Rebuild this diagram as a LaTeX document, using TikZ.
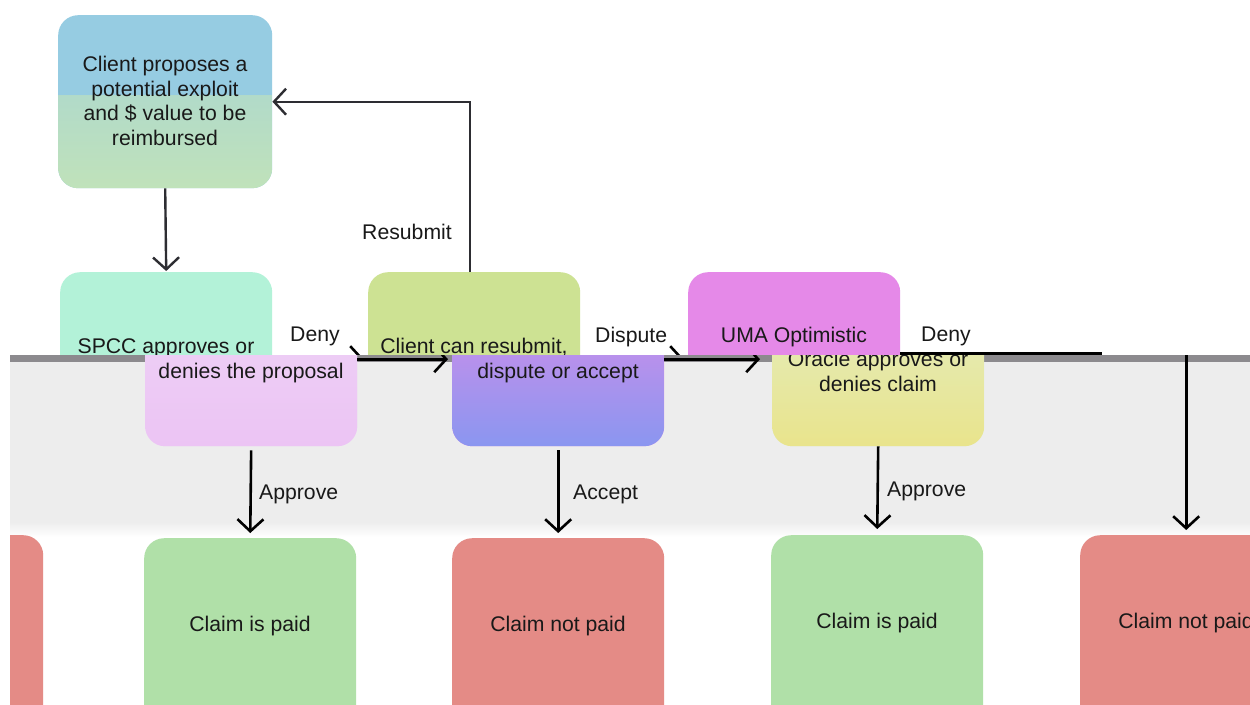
\documentclass[tikz,border=0pt]{standalone}
\usepackage{fontspec}
\setmainfont{Liberation Sans}
\usetikzlibrary{arrows.meta,calc}
\definecolor{txtc}{RGB}{25,25,25}
\definecolor{blueA}{RGB}{150,204,226}
\definecolor{nAa}{RGB}{165,212,214}
\definecolor{nAb}{RGB}{192,226,186}
\definecolor{mint}{RGB}{179,242,216}
\definecolor{ygreen}{RGB}{205,226,147}
\definecolor{magA}{RGB}{229,137,232}
\definecolor{pinkL}{RGB}{238,212,246}
\definecolor{pinkLb}{RGB}{236,196,244}
\definecolor{cliLa}{RGB}{226,140,232}
\definecolor{cliLb}{RGB}{138,150,240}
\definecolor{umaLa}{RGB}{226,238,200}
\definecolor{umaLb}{RGB}{233,228,140}
\definecolor{paidg}{RGB}{176,224,168}
\definecolor{notr}{RGB}{228,139,134}
\definecolor{bandg}{RGB}{237,237,237}
\definecolor{stripc}{RGB}{140,138,142}
\definecolor{darkl}{RGB}{45,45,50}
\begin{document}
\begin{tikzpicture}[x=1pt,y=-1pt,
  box/.style={rounded corners=20pt, inner sep=0pt, minimum width=212pt, minimum height=174pt, anchor=north west},
  tall/.style={minimum height=200pt},
  txt/.style={anchor=base, inner sep=0pt, font=\fontsize{21.2}{24}\selectfont, text=txtc},
  lbl/.style={anchor=base west, inner sep=0pt, font=\fontsize{21.2}{24}\selectfont, text=txtc},
  arr/.style={draw=black, line width=2.6pt, -{Straight Barb[length=12pt,width=26pt]}},
  arrg/.style={draw=darkl, line width=2.4pt, -{Straight Barb[length=12pt,width=26pt]}}]
\useasboundingbox (0,0) rectangle (1250,704);
\fill[white] (0,0) rectangle (1250,704);

% ---------- upper part ----------
\begin{scope}
\clip (0,0) rectangle (1250,355);
\node[box, fill=blueA, minimum width=214pt, minimum height=173pt,
  path picture={\shade[sharp corners, top color=nAa, bottom color=nAb]
    ($(path picture bounding box.north west)+(0,80)$) rectangle (path picture bounding box.south east);}] (prop) at (58,15) {};
\node[txt] (p1) at (165,71) {Client proposes a};
\node[txt] (p2) at (165,96) {potential exploit};
\node[txt] (p3) at (165,120.5) {and \$ value to be};
\node[txt] (p4) at (165,145) {reimbursed};

\node[box, fill=mint] (spcc) at (60,272) {};
\node[txt] (s1) at (166,353) {SPCC approves or};
\node[box, fill=ygreen] (cli) at (368,272) {};
\node[txt] (c1) at (474,353) {Client can resubmit,};
\node[box, fill=magA] (uma) at (688,272) {};
\node[txt] (u1) at (794,342) {UMA Optimistic};
\coordinate (nu) at (1101,535);

\draw[arrg, shorten >=1pt] (prop.south) -- (spcc.north);
\draw[arrg] ([xshift=-4pt]cli.north) |- (prop.east);
\draw[arr, shorten >=4pt] (spcc.east) -- (cli.west);
\draw[arr, shorten >=4pt] (cli.east) -- (uma.west);
\draw[arr, shorten >=5pt] ([yshift=6pt]uma.east) -| (nu);

\node[txt] (lres) at (407,239) {Resubmit};
\node[lbl] (lden1) at (290,341) {Deny};
\node[lbl] (ldis) at (595,342) {Dispute};
\node[lbl] (lden2) at (921,341) {Deny};
\end{scope}

% ---------- lower part ----------
\begin{scope}
\clip (10,355) rectangle (1250,704);
\fill[bandg] (10,355) rectangle (1250,522);
\shade[top color=bandg, bottom color=white] (10,522) rectangle (1250,537);
\fill[stripc] (10,355) rectangle (1250,362);

\node[box, fill=pinkL,
  path picture={\shade[sharp corners, top color=pinkL, bottom color=pinkLb]
    ($(path picture bounding box.north west)+(0,83)$) rectangle (path picture bounding box.south east);}] (spccL) at (145,272) {};
\node[txt] (s2) at (251,378) {denies the proposal};
\node[box, fill=cliLa,
  path picture={\shade[sharp corners, top color=cliLa, bottom color=cliLb]
    ($(path picture bounding box.north west)+(0,83)$) rectangle (path picture bounding box.south east);}] (cliL) at (452,272) {};
\node[txt] (c2) at (558,378) {dispute or accept};
\node[box, fill=umaLa,
  path picture={\shade[sharp corners, top color=umaLa, bottom color=umaLb]
    ($(path picture bounding box.north west)+(0,83)$) rectangle (path picture bounding box.south east);}] (umaL) at (772,272) {};
\node[txt] (u2L) at (878,366) {Oracle approves or};
\node[txt] (u3L) at (878,391) {denies claim};

\node[box, tall, fill=notr] (np0) at (-169,535) {};
\node[box, tall, fill=paidg] (pd1) at (144,538) {};
\node[txt] (tp1) at (250,631) {Claim is paid};
\node[box, tall, fill=notr] (np1) at (452,538) {};
\node[txt] (tn1) at (558,631) {Claim not paid};
\node[box, tall, fill=paidg] (pd2) at (771,535) {};
\node[txt] (tp2) at (877,628) {Claim is paid};
\node[box, tall, fill=notr] (np2) at (1080,535) {};
\node[txt] (tn2) at (1186,628) {Claim not paid};

\draw[arr, shorten >=4pt] (spccL.east) -- (cliL.west);
\draw[arr, shorten >=12pt] (cliL.east) -- (umaL.west);
\draw[arr, shorten <=4pt, shorten >=5pt] (spccL.south) -- (pd1.north);
\draw[arr, shorten <=4pt, shorten >=5pt] (cliL.south) -- (np1.north);
\draw[arr, shorten >=6pt] (umaL.south) -- (pd2.north);
\draw[arr, shorten >=5pt] ([yshift=6pt]umaL.east) -| (np2.north);

\node[lbl] (lap1) at (259,499) {Approve};
\node[lbl] (lacc) at (573,499) {Accept};
\node[lbl] (lap2) at (887,496) {Approve};
\end{scope}
\end{tikzpicture}
\end{document}
